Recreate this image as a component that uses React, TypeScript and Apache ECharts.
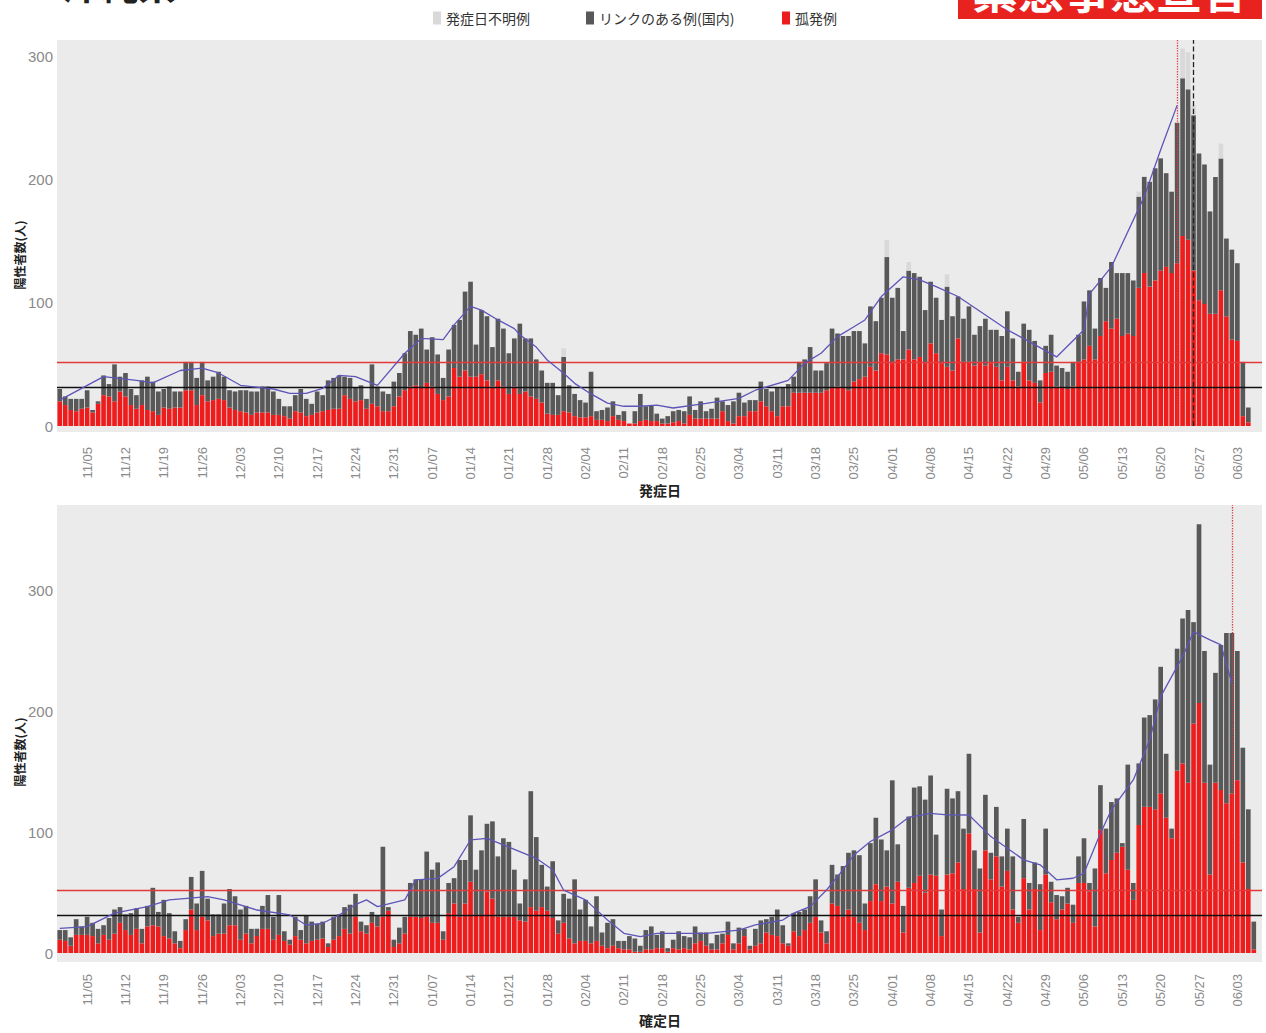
import React, { useEffect, useRef } from "react";
import * as echarts from "echarts";

// ---- categories: daily dates 10/31 .. 06/07 ----
const DAY_COUNT = 220;
const categories: string[] = Array.from({ length: DAY_COUNT }, (_, i) => {
  const d = new Date(2020, 9, 31 + i);
  return `${String(d.getMonth() + 1).padStart(2, "0")}/${String(d.getDate()).padStart(2, "0")}`;
});

const legendNames = ["発症日不明例", "リンクのある例(国内)", "孤発例"];
const yTicks = [0, 100, 200, 300];

// ---- top panel (発症日) ----
const topRed = [
  20, 17, 13, 12, 14, 15, 11, 18, 25, 24,
  20, 28, 24, 17, 14, 17, 13, 12, 9, 15,
  14, 15, 15, 29, 29, 17, 25, 20, 21, 22,
  21, 15, 13, 12, 11, 9, 11, 11, 11, 9,
  9, 8, 6, 12, 11, 8, 9, 11, 12, 13,
  14, 14, 25, 22, 20, 21, 14, 18, 16, 12,
  12, 16, 24, 29, 32, 33, 31, 35, 32, 26,
  21, 24, 47, 40, 45, 40, 40, 42, 37, 32,
  37, 32, 26, 32, 26, 28, 24, 22, 19, 10,
  9, 9, 12, 11, 8, 7, 7, 8, 5, 5,
  4, 8, 5, 4, 2, 2, 4, 5, 4, 4,
  2, 2, 3, 4, 2, 9, 6, 6, 6, 6,
  6, 12, 4, 2, 8, 8, 12, 12, 20, 16,
  12, 8, 16, 16, 27, 27, 27, 27, 27, 27,
  29, 31, 32, 31, 29, 36, 38, 40, 48, 45,
  59, 58, 51, 54, 54, 62, 54, 56, 51, 67,
  59, 51, 48, 45, 71, 52, 52, 49, 52, 49,
  51, 48, 37, 48, 37, 32, 52, 37, 35, 19,
  43, 44, 32, 31, 30, 32, 52, 54, 65, 54,
  73, 85, 79, 87, 73, 75, 73, 112, 124, 113,
  118, 126, 129, 124, 132, 154, 151, 126, 102, 99,
  91, 91, 110, 89, 70, 69, 8, 3,
];
const topLink = [
  10, 7, 9, 10, 8, 14, 2, 2, 16, 10,
  30, 12, 19, 13, 11, 20, 27, 24, 19, 15,
  18, 13, 13, 23, 23, 22, 27, 17, 19, 22,
  19, 14, 15, 17, 18, 19, 17, 21, 21, 19,
  13, 8, 10, 13, 19, 14, 9, 17, 13, 24,
  25, 27, 15, 17, 11, 12, 8, 32, 16, 16,
  14, 20, 19, 30, 45, 41, 48, 27, 40, 32,
  18, 38, 35, 46, 64, 77, 26, 52, 52, 32,
  50, 47, 33, 39, 57, 43, 47, 32, 26, 25,
  26, 16, 44, 22, 18, 14, 12, 36, 7, 8,
  11, 12, 4, 8, 0, 10, 22, 11, 13, 6,
  4, 6, 9, 9, 10, 15, 7, 14, 6, 8,
  17, 8, 13, 18, 19, 11, 9, 9, 16, 14,
  16, 23, 15, 18, 13, 25, 27, 37, 18, 18,
  22, 48, 43, 42, 44, 41, 39, 27, 49, 40,
  45, 79, 53, 58, 23, 64, 70, 65, 43, 50,
  45, 35, 65, 44, 34, 35, 45, 25, 29, 38,
  27, 30, 36, 45, 34, 12, 31, 41, 34, 18,
  22, 30, 17, 16, 14, 20, 22, 47, 45, 25,
  47, 27, 54, 37, 51, 49, 45, 74, 78, 85,
  91, 91, 76, 66, 114, 128, 122, 126, 119, 113,
  83, 111, 107, 63, 73, 63, 44, 12,
];
const topUnknownDay = [92, 151, 155, 162, 197, 205, 206, 207, 212];
const topUnknownVal = [7, 14, 7, 10, 4, 24, 30, 8, 12];
const topAvgDay = [
  0, 8, 14, 17, 22, 26, 29, 33, 39, 42, 45, 48, 51, 54, 58, 63, 66, 70, 72, 75,
  77, 80, 83, 84, 87, 89, 92, 94, 97, 100, 103, 106, 109, 112, 118, 124, 127, 133,
  136, 139, 142, 145, 147, 150, 154, 157, 160, 164, 173, 178, 182, 187, 188, 192,
  198, 201, 204,
];
const topAvgVal = [
  21, 40, 37, 35, 45, 47, 43, 33, 30, 26.5, 26.5, 30.5, 41, 40, 33, 59, 71, 70, 82, 97,
  94, 86, 79, 74, 64, 53.5, 42.7, 34.6, 26, 18.5, 16, 16, 17, 14.6, 18.4, 22.4, 29, 37,
  51, 59, 72.5, 80.5, 86, 105, 121, 118.5, 113, 105, 78, 66, 56, 78, 107, 129,
  186, 224, 260,
];

// ---- bottom panel (確定日) ----
const bottomRed = [
  11, 10, 6, 15, 15, 15, 14, 8, 15, 11,
  16, 25, 19, 15, 20, 8, 22, 23, 22, 14,
  12, 8, 4, 19, 36, 19, 30, 27, 14, 16,
  16, 23, 23, 11, 16, 8, 14, 20, 20, 11,
  15, 10, 7, 14, 11, 8, 10, 11, 12, 5,
  11, 14, 20, 16, 30, 18, 16, 25, 22, 30,
  35, 5, 8, 16, 30, 30, 29, 30, 25, 25,
  11, 33, 41, 30, 41, 59, 31, 31, 51, 45,
  30, 30, 30, 30, 27, 26, 38, 35, 38, 35,
  29, 16, 25, 12, 8, 10, 10, 8, 10, 6,
  4, 6, 4, 3, 3, 1, 1, 3, 3, 4,
  4, 1, 4, 3, 4, 3, 8, 10, 6, 3,
  3, 8, 15, 3, 8, 14, 3, 6, 8, 17,
  15, 14, 8, 6, 18, 14, 19, 25, 30, 17,
  8, 41, 39, 30, 36, 30, 25, 19, 43, 57,
  43, 55, 41, 59, 17, 54, 58, 64, 50, 65,
  64, 14, 65, 66, 75, 53, 99, 53, 17, 85,
  61, 80, 55, 68, 36, 25, 62, 36, 53, 19,
  65, 42, 28, 36, 41, 25, 58, 58, 51, 22,
  102, 66, 77, 83, 88, 69, 44, 106, 121, 121,
  119, 132, 112, 95, 151, 157, 141, 190, 207, 141,
  65, 141, 135, 124, 132, 143, 75, 53, 3,
];
const bottomLink = [
  8, 9, 7, 13, 7, 15, 11, 12, 8, 18,
  20, 13, 13, 18, 17, 12, 17, 31, 12, 30,
  21, 10, 6, 9, 27, 22, 38, 18, 18, 16,
  25, 30, 24, 25, 23, 12, 6, 19, 28, 19,
  33, 8, 4, 16, 8, 23, 16, 13, 14, 3,
  19, 18, 18, 24, 19, 8, 7, 9, 9, 58,
  3, 6, 13, 14, 28, 31, 32, 54, 44, 50,
  7, 25, 21, 47, 36, 55, 38, 54, 56, 64,
  50, 65, 62, 39, 14, 35, 96, 61, 35, 20,
  47, 11, 24, 33, 53, 26, 34, 14, 37, 11,
  21, 22, 6, 7, 11, 11, 5, 16, 19, 11,
  14, 3, 7, 15, 10, 10, 14, 7, 11, 5,
  12, 8, 11, 5, 13, 6, 3, 14, 19, 11,
  15, 22, 15, 2, 15, 20, 17, 22, 31, 10,
  10, 32, 26, 42, 47, 55, 56, 22, 48, 55,
  51, 30, 102, 31, 22, 59, 79, 74, 77, 82,
  34, 22, 71, 62, 59, 50, 66, 32, 53, 46,
  22, 41, 25, 35, 44, 5, 49, 22, 22, 38,
  38, 17, 20, 11, 13, 15, 22, 37, 7, 48,
  37, 37, 48, 45, 3, 87, 14, 51, 74, 76,
  91, 105, 53, 8, 101, 120, 143, 84, 148, 109,
  91, 91, 120, 141, 133, 107, 95, 66, 23,
];
const bottomAvgDay = [
  0, 5, 10, 16, 20, 27, 30, 36, 42, 45, 48, 51, 54, 56, 58, 63, 65, 69, 72, 75,
  78, 81, 84, 87, 90, 92, 96, 100, 103, 106, 109, 118, 124, 127, 132, 134, 137,
  140, 143, 145, 148, 152, 155, 159, 162, 166, 170, 173, 176, 179, 182, 185, 187,
  190, 192, 196, 199, 201, 205, 207, 210, 212, 214,
];
const bottomAvgVal = [
  20.4, 21.8, 33, 38.4, 44, 46.7, 44, 35.6, 31.5, 23.2, 24.6, 31.5, 40, 44, 38.4, 44, 60.5, 61.8, 71.5, 93.6,
  95, 89.5, 84, 78.4, 69, 52, 44, 27.3, 16.3, 13.6, 16.3, 16.3, 19, 23.2, 27.3, 33, 38.4,
  52.2, 68.8, 81.2, 92.3, 102, 112.4, 115.7, 114.4, 114.3, 96.4, 86.8, 77.1, 73, 60.6, 61.9, 66,
  99.2, 118.5, 143.3, 176.5, 212.3, 245.4, 266, 259.3, 255.2, 223.4,
];

// reference lines
const redThreshold = 52;
const blackThreshold = 31.5;
const topRedMarkDate = "05/23";
const topBlackMarkDate = "05/26";
const bottomRedMarkDate = "06/02";

const pad = (arr: number[]) => categories.map((_, i) => (i < arr.length ? arr[i] : null));
const sparse = (days: number[], vals: number[]) => {
  const a: (number | null)[] = categories.map(() => null);
  days.forEach((d, k) => (a[d] = vals[k]));
  return a;
};

const COLORS = { red: "#ee1d1d", link: "#585858", unknown: "#d9d9d9", avg: "#5d55b8" };
const FONT = "'Liberation Sans', 'Noto Sans CJK JP', sans-serif";
const CJK = "'Noto Sans CJK JP', sans-serif";

function makeAxes(gridIndex: number, max: number) {
  const x = {
    type: "category",
    gridIndex,
    data: categories,
    boundaryGap: true,
    axisLine: { show: false },
    axisTick: { show: false },
    axisLabel: {
      rotate: 90,
      interval: (i: number) => i >= 5 && (i - 5) % 7 === 0,
      color: "#8a8a8a",
      fontSize: 13,
      margin: 21,
      fontFamily: FONT,
    },
  };
  const y = {
    type: "value",
    gridIndex,
    min: 0,
    max,
    interval: 100,
    axisLine: { show: false },
    axisTick: { show: false },
    splitLine: { show: false },
    axisLabel: {
      color: "#8a8a8a",
      fontSize: 15,
      margin: 4,
      fontFamily: FONT,
      formatter: (v: number) => (yTicks.includes(v) ? String(v) : ""),
    },
  };
  return { x, y };
}

function markLines(marks: { date: string; color: string; type: string }[]) {
  return {
    silent: true,
    symbol: "none",
    label: { show: false },
    animation: false,
    data: [
      { yAxis: redThreshold, lineStyle: { color: "#e23a3a", width: 1.3, type: "solid" } },
      { yAxis: blackThreshold, lineStyle: { color: "#111", width: 1.3, type: "solid" } },
      ...marks.map((m) => ({ xAxis: m.date, lineStyle: { color: m.color, width: 1.3, type: m.type } })),
    ],
  };
}

export default function App() {
  const ref = useRef<HTMLDivElement>(null);
  useEffect(() => {
    if (!ref.current) return;
    const chart = echarts.init(ref.current, undefined, { renderer: "svg" });
    const top = makeAxes(0, 313);
    const bottom = makeAxes(1, 371);
    const barCommon = { type: "bar", barCategoryGap: "15%", animation: false };
    const legendCommon = {
      top: 11,
      itemWidth: 8,
      itemHeight: 13,
      itemGap: 0,
      padding: 0,
      icon: "rect",
      textStyle: { fontSize: 14, color: "#333", fontFamily: CJK },
    };
    const option: any = {
      animation: false,
      backgroundColor: "#ffffff",
      textStyle: { fontFamily: FONT },
      legend: [
        { ...legendCommon, left: 433, data: [legendNames[0]] },
        { ...legendCommon, left: 586, data: [legendNames[1]] },
        { ...legendCommon, left: 782, data: [legendNames[2]] },
      ],
      grid: [
        { left: 57, width: 1205, top: 40, height: 386 },
        { left: 57, width: 1205, top: 505, height: 448 },
      ],
      xAxis: [top.x, bottom.x],
      yAxis: [top.y, bottom.y],
      graphic: [
        { type: "rect", z: 0, silent: true, shape: { x: 57, y: 40, width: 1205, height: 392 }, style: { fill: "#ebebeb" } },
        { type: "rect", z: 0, silent: true, shape: { x: 57, y: 505, width: 1205, height: 457 }, style: { fill: "#ebebeb" } },
        { type: "text", x: 62, y: 1, style: { text: "沖縄県", font: `bold 38px ${CJK}`, fill: "#222", verticalAlign: "bottom", align: "left" } },
        { type: "rect", shape: { x: 958, y: -20, width: 304, height: 39 }, style: { fill: "#e8231f" } },
        { type: "text", x: 1110, y: 11, style: { text: "緊急事態宣言", font: `bold 46px ${CJK}`, fill: "#ffffff", align: "center", verticalAlign: "bottom" } },
        { type: "text", x: 19, y: 255, rotation: Math.PI / 2, style: { text: "陽性者数(人)", font: `bold 12px ${CJK}`, fill: "#222", align: "center", verticalAlign: "middle" } },
        { type: "text", x: 19, y: 752, rotation: Math.PI / 2, style: { text: "陽性者数(人)", font: `bold 12px ${CJK}`, fill: "#222", align: "center", verticalAlign: "middle" } },
        { type: "text", x: 660, y: 490, style: { text: "発症日", font: `bold 14px ${CJK}`, fill: "#222", align: "center", verticalAlign: "middle" } },
        { type: "text", x: 660, y: 1020, style: { text: "確定日", font: `bold 14px ${CJK}`, fill: "#222", align: "center", verticalAlign: "middle" } },
      ],
      series: [
        { ...barCommon, name: legendNames[2], xAxisIndex: 0, yAxisIndex: 0, stack: "top", data: pad(topRed), itemStyle: { color: COLORS.red } },
        { ...barCommon, name: legendNames[1], xAxisIndex: 0, yAxisIndex: 0, stack: "top", data: pad(topLink), itemStyle: { color: COLORS.link } },
        { ...barCommon, name: legendNames[0], xAxisIndex: 0, yAxisIndex: 0, stack: "top", data: sparse(topUnknownDay, topUnknownVal), itemStyle: { color: COLORS.unknown } },
        {
          type: "line", name: "top-avg", xAxisIndex: 0, yAxisIndex: 0, data: sparse(topAvgDay, topAvgVal),
          connectNulls: true, showSymbol: false, z: 5, lineStyle: { color: COLORS.avg, width: 1.3 },
          markLine: markLines([
            { date: topRedMarkDate, color: "#e23a3a", type: "dotted" },
            { date: topBlackMarkDate, color: "#222", type: "dashed" },
          ]),
        },
        { ...barCommon, name: legendNames[2], xAxisIndex: 1, yAxisIndex: 1, stack: "bottom", data: pad(bottomRed), itemStyle: { color: COLORS.red } },
        { ...barCommon, name: legendNames[1], xAxisIndex: 1, yAxisIndex: 1, stack: "bottom", data: pad(bottomLink), itemStyle: { color: COLORS.link } },
        {
          type: "line", name: "bottom-avg", xAxisIndex: 1, yAxisIndex: 1, data: sparse(bottomAvgDay, bottomAvgVal),
          connectNulls: true, showSymbol: false, z: 5, lineStyle: { color: COLORS.avg, width: 1.3 },
          markLine: markLines([{ date: bottomRedMarkDate, color: "#e23a3a", type: "dotted" }]),
        },
      ],
    };
    chart.setOption(option);
    return () => chart.dispose();
  }, []);
  return <div ref={ref} style={{ position: "fixed", left: 0, top: 0, width: 1266, height: 1033 }} />;
}
